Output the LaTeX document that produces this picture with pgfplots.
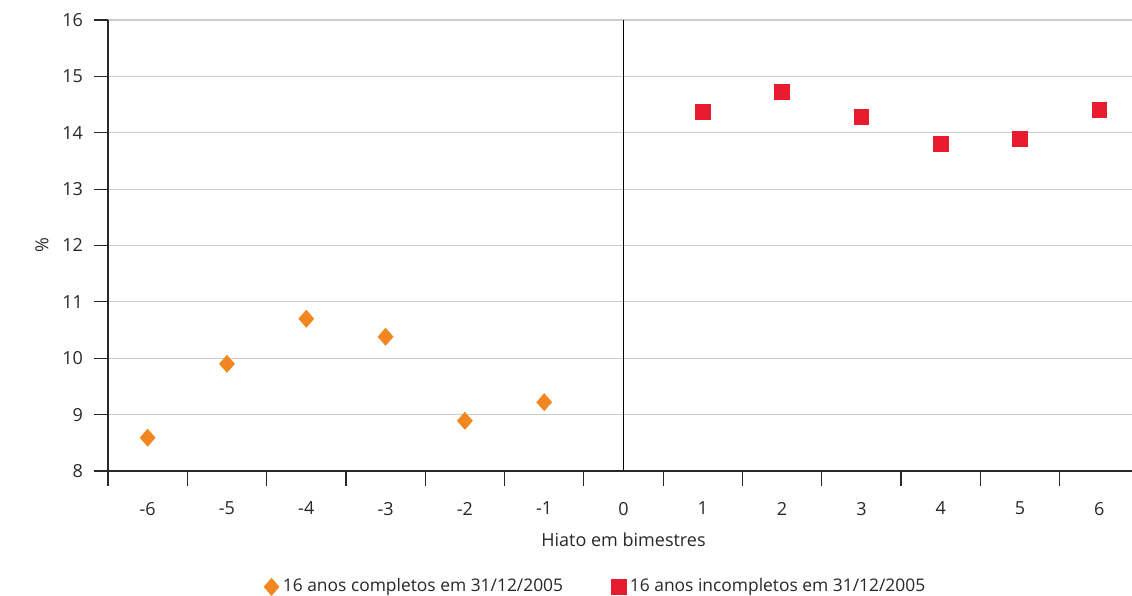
\documentclass[border=0pt]{standalone}
\usepackage{fontspec}
\setmainfont{Open Sans}
\usepackage{pgfplots}
\pgfplotsset{compat=1.18}
\usetikzlibrary{calc}
\definecolor{orng}{RGB}{242,135,34}
\definecolor{rd}{RGB}{232,28,46}
\definecolor{axc}{RGB}{40,40,40}
\definecolor{grd}{RGB}{205,205,205}
\begin{document}
\begin{tikzpicture}
\begin{axis}[
  scale only axis,
  width=515.5pt, height=225.5pt,
  xmin=-6.5, xmax=6.5, ymin=8, ymax=16,
  axis lines=left,
  axis line style={-, axc, line width=0.7pt},
  xtick={-6,...,6},
  minor xtick={-6.5,-5.5,...,5.5},
  ytick={8,...,16},
  tick align=outside,
  major tick length=7pt,
  minor tick length=7.5pt,
  major x tick style={draw=none},
  minor x tick style={axc, line width=0.6pt},
  major y tick style={axc, line width=0.6pt},
  ymajorgrids,
  grid style={grd, line width=0.6pt},
  font=\fontsize{9}{11}\selectfont,
  tick label style={font=\fontsize{9}{11}\selectfont, text=axc},
  /pgf/number format/assume math mode=true,
  xticklabel style={yshift=-5pt},
  yticklabel style={xshift=-2pt},
  xlabel={Hiato em bimestres},
  xlabel style={text=axc, yshift=-2pt},
  ylabel={\%},
  ylabel style={text=axc},
  legend style={at={(0.474,-0.257)}, anchor=center, draw=none, legend columns=2,
    font=\fontsize{8.7}{10.5}\selectfont, text=axc,
    /tikz/every even column/.append style={column sep=22pt}},
  legend image code/.code={\draw[#1] (0pt,0pt) -- plot coordinates {(0pt,0pt)};},
  legend cell align=left,
  clip=false,
]
\addplot[black, line width=0.6pt, forget plot] coordinates {(0,8) (0,16)};
\addplot[only marks, mark=diamond*, mark size=4.2pt, color=orng, mark options={fill=orng, draw=orng, xscale=1.17}]
  coordinates {(-6,8.59) (-5,9.90) (-4,10.70) (-3,10.38) (-2,8.89) (-1,9.22)};
\addlegendentry{16 anos completos em 31/12/2005}
\addplot[only marks, mark=square*, mark size=3.7pt, color=rd, mark options={fill=rd, draw=rd}]
  coordinates {(1,14.37) (2,14.72) (3,14.28) (4,13.80) (5,13.89) (6,14.40)};
\addlegendentry{16 anos incompletos em 31/12/2005}
\end{axis}
\pgfresetboundingbox
\path[use as bounding box] ($(current axis.south west)+(-54pt,-62.5pt)$) rectangle ($(current axis.north east)+(-3.5pt,10pt)$);
\end{tikzpicture}
\end{document}
